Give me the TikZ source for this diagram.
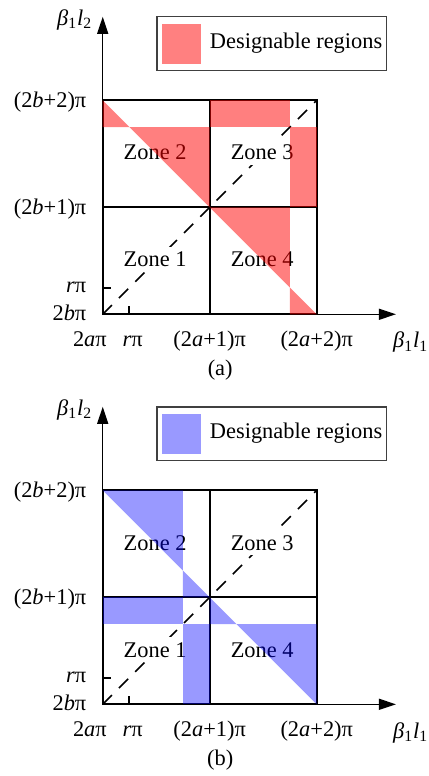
\documentclass[tikz,border=0pt]{standalone}
\usepackage{fontspec}
\setmainfont{Liberation Serif}
\usetikzlibrary{arrows.meta, positioning, calc}
\definecolor{softred}{RGB}{255, 128, 128}
\definecolor{softblue}{RGB}{153, 153, 255}

\tikzset{
    axisline/.style={line width=0.7pt, -{Triangle[length=8.5pt, width=5.5pt]}},
    gridline/.style={line width=1pt},
    diagline/.style={line width=0.8pt, dash pattern=on 6.5pt off 5pt},
    ticklabel/.style={inner sep=0pt},
    zonelabel/.style={fill=white, inner sep=2.5pt},
    redzone/.style={fill=red, fill opacity=0.5},
    bluezone/.style={fill=blue, fill opacity=0.4},
    legendbox/.style={draw=black!75, line width=0.75pt, minimum width=114.7pt, minimum height=26.8pt, inner sep=0pt},
    swatch/.style={minimum width=19.8pt, minimum height=20pt, inner sep=0pt}
}

% axes, grid, labels and legend shared by both panels
\newcommand{\zonepanel}[2]{%
    \coordinate (o) at (0,0);
    \coordinate (xtip) at (2.74,0);
    \coordinate (ytip) at (0,2.78);
    \draw[gridline] (o) rectangle (2,2);
    \draw[gridline] (1,0) -- (1,2);
    \draw[gridline] (0,1) -- (2,1);
    \draw[diagline] (o) -- (2,2);
    \draw[axisline] (o) -- (xtip);
    \draw[axisline] (o) -- (ytip);
    \draw[gridline] (0.25,0) -- (0.25,0.075);
    \draw[gridline] (0,0.25) -- (0.075,0.25);
    % zones
    \node[zonelabel] (zone1) at (0.49,0.51) {Zone 1};
    \node[zonelabel] (zone2) at (0.49,1.51) {Zone 2};
    \node[zonelabel] (zone3) at (1.49,1.51) {Zone 3};
    \node[zonelabel] (zone4) at (1.49,0.51) {Zone 4};
    % tick labels
    \node[ticklabel, anchor=base east] (ytop) at (-0.15,1.935) {(2\textit{b}+2)π};
    \node[ticklabel, anchor=base east] (ymid) at (-0.15,0.935) {(2\textit{b}+1)π};
    \node[ticklabel, anchor=base east] (yr) at (-0.15,0.20) {\textit{r}π};
    \node[ticklabel, anchor=base east] (ylow) at (-0.15,-0.06) {2\textit{b}π};
    \node[ticklabel, anchor=base] (xlow) at (-0.12,-0.30) {2\textit{a}π};
    \node[ticklabel, anchor=base] (xr) at (0.28,-0.30) {\textit{r}π};
    \node[ticklabel, anchor=base] (xmid) at (1.0,-0.30) {(2\textit{a}+1)π};
    \node[ticklabel, anchor=base] (xtop) at (2.0,-0.30) {(2\textit{a}+2)π};
    \node[ticklabel, anchor=base west] (xname) at (2.71,-0.315) {\textit{β}\textsubscript{1}\textit{l}\textsubscript{1}};
    \node[ticklabel, anchor=base west] (yname) at (-0.43,2.70) {\textit{β}\textsubscript{1}\textit{l}\textsubscript{2}};
    \node[ticklabel, anchor=base] (caption) at (1.098,-0.575) {(#1)};
    % legend
    \node[legendbox] (legend) at (1.58,2.53) {};
    \node[swatch, fill=#2, right=2.5pt of legend.west] (sample) {};
    \node[ticklabel, right=3.9pt of sample] (legtext) {Designable regions};
}

\begin{document}
\begin{tikzpicture}[x=53.5pt, y=53.5pt, font=\fontsize{11.2}{13.4}\selectfont]
    \useasboundingbox (-0.96,-4.315) rectangle (3.04,2.937);

    % (a)
    \begin{scope}[name prefix=pa-]
        \zonepanel{a}{softred}
        \fill[redzone] (0,2) -- (0,1.75) -- (0.25,1.75) -- cycle;
        \fill[redzone] (0.25,1.75) -- (1,1.75) -- (1,1) -- cycle;
        \fill[redzone] (1,1.75) rectangle (1.75,2);
        \fill[redzone] (1.75,1) rectangle (2,1.75);
        \fill[redzone] (1,1) -- (1.75,1) -- (1.75,0.25) -- cycle;
        \fill[redzone] (1.75,0.25) -- (2,0) -- (1.75,0) -- cycle;
    \end{scope}

    % (b)
    \begin{scope}[yshift=-3.645*53.5pt, name prefix=pb-]
        \zonepanel{b}{softblue}
        \fill[bluezone] (0,2) -- (0.75,2) -- (0.75,1.25) -- cycle;
        \fill[bluezone] (0.75,1.25) -- (1,1) -- (0.75,1) -- cycle;
        \fill[bluezone] (0,0.75) rectangle (0.75,1);
        \fill[bluezone] (0.75,0) rectangle (1,0.75);
        \fill[bluezone] (1,1) -- (1.25,0.75) -- (1,0.75) -- cycle;
        \fill[bluezone] (1.25,0.75) -- (2,0.75) -- (2,0) -- cycle;
    \end{scope}
\end{tikzpicture}
\end{document}
